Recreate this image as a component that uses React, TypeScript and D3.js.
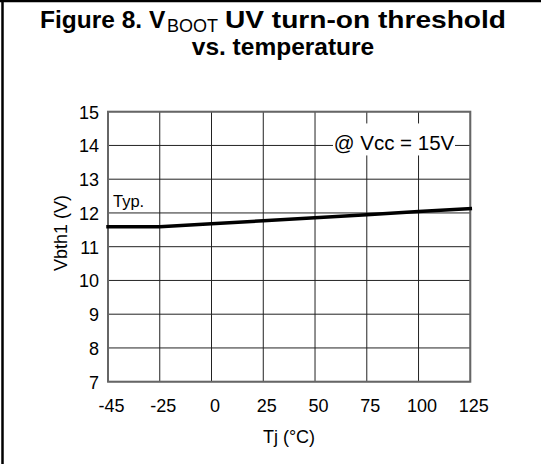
import React from 'react';
import * as d3 from 'd3';

const temperatureLabels = ['-45', '-25', '0', '25', '50', '75', '100', '125'];
const vbth1Typ = [11.59, 11.59, 11.68, 11.77, 11.86, 11.95, 12.04, 12.13];
const yTickValues = [7, 8, 9, 10, 11, 12, 13, 14, 15];

const W = 541;
const H = 464;
const plot = { left: 108, right: 470.3, top: 111.7, bottom: 381.7 };

export default function App() {
  const x = d3.scalePoint<string>().domain(temperatureLabels).range([plot.left, plot.right]);
  const y = d3.scaleLinear().domain([7, 15]).range([plot.bottom, plot.top]);
  const line = d3
    .line<number>()
    .x((_, i) => x(temperatureLabels[i]) as number)
    .y((d) => y(d));

  const font = 'Arial, "Liberation Sans", Helvetica, sans-serif';
  const annX = 394;
  const annY = y(14);

  return (
    <svg
      width={W}
      height={H}
      style={{ position: 'absolute', left: 0, top: 0, background: '#fff' }}
      fontFamily={font}
    >
      <rect x={0} y={0} width={W} height={H} fill="#fff" />
      {/* frame */}
      <line x1={0} x2={W} y1={1} y2={1} stroke="#000" strokeWidth={2.5} />
      <line x1={2.5} x2={2.5} y1={0} y2={H} stroke="#000" strokeWidth={2.5} />

      {/* title */}
      <text y={28} fontWeight="bold" fontSize={24.5} fill="#000">
        <tspan x={40}>Figure 8. V</tspan>
        <tspan x={167} dy={4} fontWeight="normal" fontSize={18}>BOOT</tspan>
        <tspan x={225} dy={-4} textLength={281} lengthAdjust="spacingAndGlyphs">UV turn-on threshold</tspan>
      </text>
      <text x={283} y={55} textAnchor="middle" fontWeight="bold" fontSize={24.5} fill="#000">
        vs. temperature
      </text>

      {/* grid */}
      {yTickValues.map((v) => (
        <line key={'h' + v} x1={plot.left} x2={plot.right} y1={y(v)} y2={y(v)} stroke="#222" strokeWidth={1} />
      ))}
      {temperatureLabels.map((t) => (
        <line key={'v' + t} x1={x(t)} x2={x(t)} y1={plot.top} y2={plot.bottom} stroke="#222" strokeWidth={1} />
      ))}
      <rect
        x={plot.left}
        y={plot.top}
        width={plot.right - plot.left}
        height={plot.bottom - plot.top}
        fill="none"
        stroke="#666"
        strokeWidth={2}
      />

      {/* annotation */}
      <rect x={333} y={annY - 22} width={122} height={32} fill="#fff" />
      <text x={annX} y={annY + 5} textAnchor="middle" fontSize={20.5} fill="#000">
        @ Vcc = 15V
      </text>

      {/* data line */}
      <path d={line(vbth1Typ) || ''} fill="none" stroke="#000" strokeWidth={3.5} strokeLinecap="square" />
      <text x={113} y={207} fontSize={16.5} fill="#000">Typ.</text>

      {/* y ticks */}
      {yTickValues.map((v) => (
        <text key={'yt' + v} x={99} y={y(v) + 7} textAnchor="end" fontSize={18} fill="#000">
          {v}
        </text>
      ))}
      {/* x ticks */}
      {temperatureLabels.map((t) => (
        <text key={'xt' + t} x={(x(t) as number) + 3.5} y={412} textAnchor="middle" fontSize={18} fill="#000">
          {t}
        </text>
      ))}

      {/* axis titles */}
      <text x={289} y={443} textAnchor="middle" fontSize={18} fill="#000">Tj (°C)</text>
      <text
        transform={`translate(67,233) rotate(-90)`}
        textAnchor="middle"
        fontSize={18}
        fill="#000"
      >
        Vbth1 (V)
      </text>
    </svg>
  );
}
